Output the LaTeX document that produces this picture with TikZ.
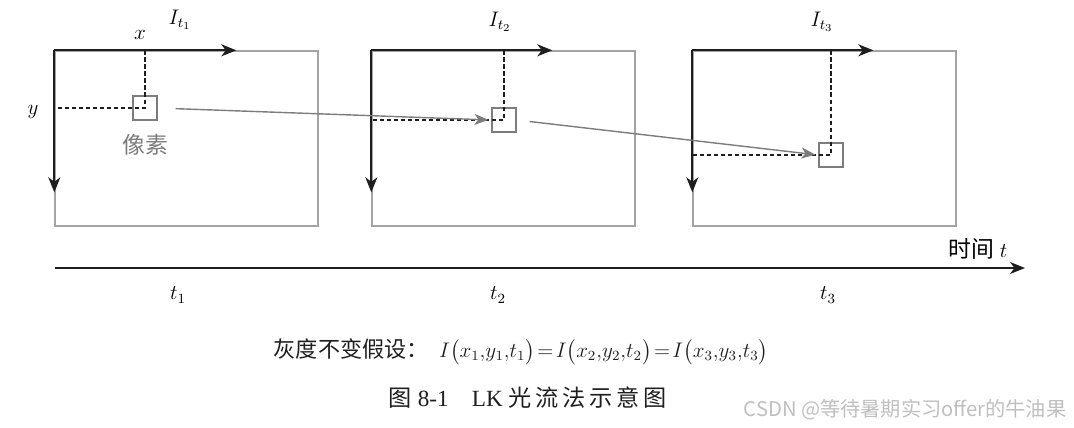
\documentclass[tikz,border=0pt]{standalone}
\usepackage{fontspec}
\setmainfont{Liberation Serif}
\newfontfamily\cjk{Noto Sans CJK SC}
\usepackage{amsmath}
\usetikzlibrary{arrows.meta, positioning, calc}
\definecolor{framegray}{HTML}{A4A4A4}
\definecolor{flowgray}{HTML}{7C7C7C}
\definecolor{axisblack}{HTML}{1E1E1E}

\begin{document}
\begin{tikzpicture}[
    x=0.02cm, y=-0.02cm,
    imgframe/.style={draw=framegray, line width=0.8pt, minimum width=5.26cm, minimum height=3.5cm, inner sep=0pt},
    pixelbox/.style={draw=flowgray, line width=0.7pt, minimum size=0.48cm, inner sep=0pt, fill=white},
    axis/.style={draw=axisblack, line width=1.1pt, -{Stealth[length=0.3cm, width=0.24cm, inset=0.09cm]}},
    flow/.style={draw=flowgray, line width=0.8pt, -{Stealth[length=0.28cm, width=0.22cm, inset=0.08cm]}},
    guide/.style={draw=axisblack, line width=0.7pt, dash pattern=on 2.4pt off 1.6pt},
    lbl/.style={font=\fontsize{12}{14}\selectfont, inner sep=0pt},
    font=\fontsize{12}{14}\selectfont
]
\useasboundingbox (0,0) rectangle (1074,427);

% Image frames
\node[imgframe] (f1) at (186.5,138.5) {};
\node[imgframe] (f2) at (503.5,138.5) {};
\node[imgframe] (f3) at (824.5,138.5) {};

% Tracked pixel in each frame
\node[pixelbox] (p1) at (145,108) {};
\node[pixelbox] (p2) at (504,120) {};
\node[pixelbox] (p3) at (831,155) {};

% Dashed projections onto the image axes
\draw[guide] (f1.north west -| p1.center) -- (p1.center) -- (f1.north west |- p1.center);
\draw[guide] (f2.north west -| p2.center) -- (p2.center) -- (f2.north west |- p2.center);
\draw[guide] (f3.north west -| p3.center) -- (p3.center) -- (f3.north west |- p3.center);

% Image axes
\draw[axis] (f1.north west) -- ++(182,0);
\draw[axis] (f1.north west) -- ++(0,142);
\draw[axis] (f2.north west) -- ++(181,0);
\draw[axis] (f2.north west) -- ++(0,142);
\draw[axis] (f3.north west) -- ++(181,0);
\draw[axis] (f3.north west) -- ++(0,142);

% Pixel motion between frames
\draw[flow, shorten <=0.36cm, shorten >=0.06cm] (p1.east) -- (p2.west);
\draw[flow, shorten <=0.26cm, shorten >=0.06cm] (p2.east) -- (p3.west);

% Labels on the frames
\node[lbl] (xlbl) at (140,35) {$x$};
\node[lbl] (ylbl) at (33,112) {$y$};
\node[lbl] (i1) at (180,20) {$I_{t_1}$};
\node[lbl] (i2) at (500,22) {$I_{t_2}$};
\node[lbl] (i3) at (822,22) {$I_{t_3}$};
\node[lbl, text=flowgray, font=\fontsize{13}{15}\selectfont, below=0.26cm of p1] (pix) {\cjk 像素};

% Time axis
\coordinate (tstart) at (55,268);
\coordinate (tend) at (1025,268);
\draw[axis, line width=1pt] (tstart) -- (tend);
\node[lbl] (time) at (978,249) {{\cjk\fontsize{13}{15}\selectfont 时间} $t$};
\node[lbl] (t1) at (178,295) {$t_1$};
\node[lbl] (t2) at (498,295) {$t_2$};
\node[lbl] (t3) at (828,295) {$t_3$};

% Assumption and caption
\node[lbl, text=axisblack] (eq) at (521,352) {{\cjk\fontsize{12.6}{15}\selectfont 灰度不变假设：}\enspace $I\bigl(x_1{,}y_1{,}t_1\bigr)\!=\!I\bigl(x_2{,}y_2{,}t_2\bigr)\!=\!I\bigl(x_3{,}y_3{,}t_3\bigr)$};
\node[lbl, text=axisblack, font=\fontsize{13.2}{16}\selectfont] (cap) at (528,398) {{\cjk 图} 8-1\quad LK {\cjk 光\,流\,法\,示\,意\,图}};
\node[lbl, text=black!25, font=\fontsize{11.5}{13}\selectfont\cjk] (mark) at (905,410) {CSDN @等待暑期实习offer的牛油果};
\end{tikzpicture}
\end{document}
